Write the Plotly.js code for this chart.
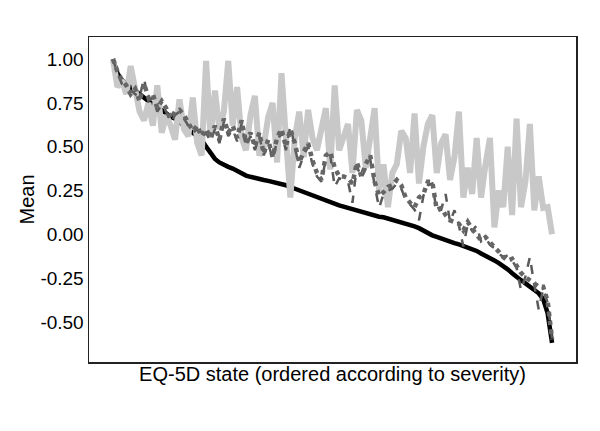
<!DOCTYPE html>
<html>
<head>
<meta charset="utf-8">
<script src="https://cdn.plot.ly/plotly-3.0.1.min.js"></script>
<style>
  html, body { margin: 0; padding: 0; background: #fff; }
  #chart { width: 600px; height: 431px; }
</style>
</head>
<body>
<div id="chart"></div>
<script>
// EQ-5D states, ordered by severity (1 = mildest)
var states = [];
for (var i = 1; i <= 100; i++) states.push(i);

var yTicks = [1.0, 0.75, 0.5, 0.25, 0.0, -0.25, -0.5];
var yTickText = ['1.00', '0.75', '0.50', '0.25', '0.00', '-0.25', '-0.50'];

// black: observed mean (sorted)
var observed = [
  1.00, 0.92, 0.88, 0.86, 0.84, 0.82, 0.80, 0.78, 0.76, 0.74,
  0.72, 0.71, 0.69, 0.67, 0.66, 0.64, 0.62, 0.60, 0.58, 0.56,
  0.54, 0.50, 0.46, 0.43, 0.41, 0.395, 0.385, 0.375, 0.36, 0.345,
  0.335, 0.328, 0.32, 0.315, 0.31, 0.305, 0.30, 0.295, 0.29, 0.28,
  0.27, 0.26, 0.25, 0.24, 0.23, 0.22, 0.21, 0.20, 0.19, 0.18,
  0.175, 0.165, 0.158, 0.15, 0.145, 0.138, 0.13, 0.122, 0.115, 0.108,
  0.10, 0.097, 0.09, 0.082, 0.075, 0.068, 0.063, 0.055, 0.045, 0.035,
  0.02, 0.005, -0.006, -0.015, -0.025, -0.033, -0.042, -0.05, -0.058, -0.066,
  -0.074, -0.085, -0.095, -0.11, -0.122, -0.135, -0.149, -0.165, -0.18, -0.20,
  -0.222, -0.246, -0.262, -0.28, -0.30, -0.32, -0.337, -0.37, -0.45, -0.62
];

// light grey series
var modelA = [
  1.00, 0.84, 0.88, 0.80, 0.96, 0.82, 0.70, 0.65, 0.75, 0.62,
  0.85, 0.58, 0.68, 0.62, 0.54, 0.77, 0.60, 0.56, 0.78, 0.52,
  0.45, 0.99, 0.55, 0.82, 0.60, 0.70, 0.99, 0.62, 0.84, 0.55,
  0.48, 0.68, 0.79, 0.45, 0.50, 0.67, 0.75, 0.41, 0.92, 0.55,
  0.21, 0.55, 0.70, 0.44, 0.71, 0.55, 0.48, 0.60, 0.72, 0.37,
  0.85, 0.48, 0.55, 0.63, 0.35, 0.71, 0.65, 0.38, 0.55, 0.72,
  0.25, 0.40, 0.155, 0.35, 0.40, 0.59, 0.55, 0.35, 0.69, 0.29,
  0.50, 0.63, 0.68, 0.35, 0.52, 0.57, 0.31, 0.44, 0.70, 0.21,
  0.38, 0.23, 0.55, 0.21, 0.40, 0.55, 0.04, 0.25, 0.155, 0.50,
  0.11, 0.66, 0.155, 0.30, 0.63, 0.137, 0.33, 0.15, 0.155, 0.00
];

// dark grey dotted series
var modelB = [
  1.00, 0.93, 0.88, 0.85, 0.80, 0.83, 0.76, 0.86, 0.78, 0.80,
  0.72, 0.76, 0.72, 0.66, 0.70, 0.71, 0.68, 0.63, 0.59, 0.62,
  0.56, 0.60, 0.55, 0.62, 0.54, 0.66, 0.58, 0.62, 0.55, 0.65,
  0.52, 0.58, 0.50, 0.58, 0.46, 0.54, 0.44, 0.55, 0.60, 0.50,
  0.60, 0.52, 0.41, 0.47, 0.52, 0.42, 0.35, 0.31, 0.45, 0.47,
  0.38, 0.33, 0.33, 0.32, 0.29, 0.41, 0.33, 0.40, 0.45, 0.30,
  0.22, 0.24, 0.27, 0.28, 0.31, 0.28, 0.21, 0.18, 0.155, 0.21,
  0.23, 0.30, 0.30, 0.14, 0.15, 0.11, 0.08, 0.07, 0.06, 0.023,
  0.07, 0.03, 0.00, -0.034, -0.017, -0.05, -0.074, -0.10, -0.13, -0.15,
  -0.14, -0.18, -0.22, -0.245, -0.26, -0.28, -0.30, -0.30, -0.38, -0.60
];

// dark grey dashed series
var modelC = [
  1.00, 0.92, 0.86, 0.84, 0.82, 0.80, 0.78, 0.89, 0.76, 0.78,
  0.70, 0.74, 0.70, 0.64, 0.68, 0.70, 0.66, 0.62, 0.58, 0.60,
  0.55, 0.58, 0.53, 0.60, 0.52, 0.64, 0.56, 0.60, 0.53, 0.63,
  0.50, 0.56, 0.48, 0.56, 0.45, 0.52, 0.43, 0.53, 0.58, 0.48,
  0.62, 0.50, 0.38, 0.45, 0.50, 0.40, 0.33, 0.30, 0.43, 0.45,
  0.27, 0.32, 0.31, 0.30, 0.18, 0.39, 0.32, 0.38, 0.43, 0.28,
  0.15, 0.23, 0.25, 0.26, 0.29, 0.26, 0.20, 0.17, 0.14, 0.08,
  0.22, 0.28, 0.29, 0.13, 0.14, 0.23, 0.07, 0.137, 0.05, -0.07,
  0.06, 0.02, 0.05, -0.04, -0.02, -0.06, -0.08, -0.11, -0.13, -0.12,
  -0.15, -0.19, -0.32, -0.24, -0.13, -0.29, -0.43, -0.31, -0.39, -0.60
];

var traces = [
  {x: states, y: observed, type: 'scatter', mode: 'lines', name: 'Observed',
   line: {color: '#000000', width: 4.5}},
  {x: states, y: modelA, type: 'scatter', mode: 'lines', name: 'Model A',
   line: {color: '#c8c8c8', width: 6}},
  {x: states, y: modelC, type: 'scatter', mode: 'lines', name: 'Model C',
   line: {color: '#5a5a5a', width: 2.5, dash: 'dash'}},
  {x: states, y: modelB, type: 'scatter', mode: 'lines', name: 'Model B',
   line: {color: '#666666', width: 4.5, dash: 'dot'}}
];

var layout = {
  width: 600,
  height: 431,
  margin: {l: 89, r: 24, t: 37, b: 69},
  paper_bgcolor: '#ffffff',
  plot_bgcolor: '#ffffff',
  showlegend: false,
  font: {family: 'Liberation Sans, Arial, sans-serif', color: '#000000', size: 19},
  xaxis: {
    range: [-4.4, 105.4],
    showticklabels: false,
    ticks: '',
    showgrid: false,
    zeroline: false,
    showline: true,
    mirror: true,
    linecolor: '#222222',
    linewidth: 1.5,
    title: {text: 'EQ-5D state (ordered according to severity)', font: {size: 20}, standoff: 4}
  },
  yaxis: {
    range: [-0.729, 1.126],
    tickvals: yTicks,
    ticktext: yTickText,
    ticks: '',
    showgrid: false,
    zeroline: false,
    showline: true,
    mirror: true,
    linecolor: '#222222',
    linewidth: 1.5,
    tickfont: {size: 19},
    title: {text: 'Mean', font: {size: 20}, standoff: 0}
  }
};

Plotly.newPlot('chart', traces, layout, {displayModeBar: false, staticPlot: true});
</script>
</body>
</html>
